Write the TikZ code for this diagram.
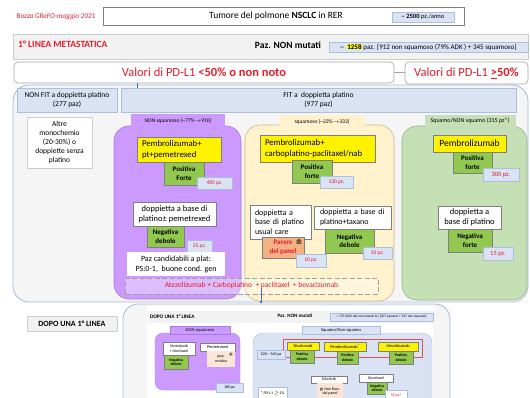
\documentclass[tikz,border=0pt]{standalone}
\usepackage{fontspec}
\setmainfont{Carlito}
\newfontfamily\emofont{Noto Emoji}
\usetikzlibrary{arrows.meta}
\definecolor{redtxt}{RGB}{228,28,44}
\definecolor{bluefill}{RGB}{218,227,243}
\definecolor{blueline}{RGB}{170,190,222}
\definecolor{bandfill}{RGB}{242,242,242}
\definecolor{bandline}{RGB}{205,205,205}
\definecolor{contfill}{RGB}{245,245,245}
\definecolor{contline}{RGB}{165,185,215}
\definecolor{purplefill}{RGB}{204,153,255}
\definecolor{purpleline}{RGB}{165,125,215}
\definecolor{peachfill}{RGB}{255,242,204}
\definecolor{peachline}{RGB}{200,185,140}
\definecolor{greenreg}{RGB}{197,224,180}
\definecolor{greenregline}{RGB}{150,180,135}
\definecolor{greenbox}{RGB}{146,200,80}
\definecolor{boxline}{RGB}{127,127,127}
\definecolor{orangebox}{RGB}{244,177,131}
\definecolor{lightorange}{RGB}{251,229,214}
\definecolor{linkblue}{RGB}{60,110,195}
\definecolor{redline}{RGB}{225,80,80}
\newcommand\fs[2]{\fontsize{#1pt}{#2pt}\selectfont}
\begin{document}
\begin{tikzpicture}[x=1pt,y=-1pt,
  every node/.style={inner sep=0pt, outer sep=0pt, align=center},
  rc/.style n args={4}{at={({(#1+#3)/2},{(#2+#4)/2})}, minimum width={(#3-#1)*1pt}, minimum height={(#4-#2)*1pt}},
  wbox/.style={draw=boxline, fill=white, line width=0.6pt},
  ybox/.style={draw=boxline, fill=yellow, line width=0.7pt},
  gbox/.style={draw=boxline, fill=greenbox, line width=0.5pt, font=\fs{7}{8.5}\bfseries},
  pzbox/.style={draw=blueline, fill=bluefill, line width=0.5pt, text=redtxt, font=\fs{5.5}{6.5}},
  bbox/.style={draw=blueline, fill=bluefill, line width=0.6pt},
  region/.style={rounded corners=15pt, line width=0.6pt},
  tw/.style={draw=boxline, fill=white, line width=0.3pt, font=\fs{4}{4.6}},
  ty/.style={draw=boxline, fill=yellow, line width=0.3pt, font=\fs{4.3}{4.8}},
  tg/.style={draw=boxline, fill=greenbox, line width=0.3pt, font=\fs{3.8}{4.4}\bfseries},
  tb/.style={draw=blueline, fill=bluefill, line width=0.3pt, font=\fs{4}{4.6}}
]
\useasboundingbox (0,0) rectangle (530,398);
\clip (0,0) rectangle (530,398);
\fill[white] (0,0) rectangle (530,398);

% ---------- header ----------
\node[text=redtxt, font=\fs{7.2}{8}\itshape] (bozza) at (56,17) {Bozza GReFO-maggio 2021};
\node[rc={103}{7}{464}{25}, draw=boxline, line width=0.8pt, fill=white] (title) {};
\node[font=\fs{9.5}{11}] (titletxt) at (276,16) {Tumore del polmone \textbf{NSCLC} in RER};
\node[rc={392}{12}{454}{22}, bbox, font=\fs{6.5}{7.5}] (anno) {\textasciitilde\ \textbf{2500} pz./anno};

\node[rc={13}{34}{528}{59}, fill=bandfill, draw=bandline, line width=0.6pt] (band) {};
\node[anchor=west, text=redtxt, font=\fs{9.5}{11}\bfseries] (linea) at (18,44) {1° LINEA METASTATICA};
\node[font=\fs{9.5}{11}\bfseries] (nonmut) at (288,45) {Paz. NON mutati};
\node[rc={329}{42}{528}{52}, bbox, font=\fs{7}{8}] (count) {\textasciitilde\ \ {\fboxsep=0.3pt\colorbox{yellow}{\textbf{1258}}} paz. [912 non squamoso (79\% ADK ) + 345 squamoso]};

% ---------- big container ----------
\node[rc={13}{85}{528}{302}, draw=contline, fill=contfill, rounded corners=16pt, line width=0.8pt] (cont) {};

\node[rc={14}{62}{394}{83}, draw=boxline!70, fill=white, rounded corners=4pt, line width=0.6pt, text=redtxt, font=\fs{12.5}{14}] (low) {Valori di PD-L1 \textbf{<50\% o non noto}};
\node[rc={405}{62}{528}{84}, draw=boxline!70, fill=white, rounded corners=4pt, line width=0.6pt, text=redtxt, font=\fs{12.5}{14}] (high) {Valori di PD-L1 \textbf{\underline{>}50\%}};
\draw[boxline!70, line width=0.8pt] (low.east) -- (low.east -| high.west);

\node[rc={17}{88}{117}{112}, bbox, font=\fs{7.5}{9}] (nonfit) {NON FIT a doppietta platino\\(277 paz)};
\node[rc={121}{88}{516}{112}, bbox, font=\fs{7.5}{9}] (fit) {FIT a\ \ doppietta platino\\(977 paz)};
\coordinate (lk) at (137,0);
\draw[linkblue, line width=0.8pt] (low.south -| lk) -- (fit.north -| lk);

\node[rc={27}{117}{92}{168}, draw=bandline, fill=white, line width=0.6pt, font=\fs{7.5}{9}] (altre) {Altre\\monochemio\\(20-30\%) o\\doppiette senza\\platino};

% ---------- NON squamoso ----------
\node[rc={114}{126}{241}{299}, draw=purpleline, fill=purplefill, region] (pmain) {};
\node[rc={131}{114}{225}{128}, fill=purplefill, font=\fs{5.5}{6.5}] (ptab) {NON squamoso (\textasciitilde77\%$\rightarrow$910)};
\node[rc={137}{137}{221}{162}, ybox, font=\fs{8.7}{10.5}, text width=74pt, align=left] (pem1) {Pembrolizumab+\\pt+pemetrexed};
\node[rc={164}{162}{204}{185}, gbox] (pf1) {Positiva\\Forte};
\node[rc={197}{177}{232}{189}, pzbox] (pz485) {485 pz.};
\node[rc={133}{202}{216}{226}, wbox, font=\fs{8.5}{10}] (dop1) {doppietta a base di\\platino\textpm\ pemetrexed};
\node[rc={147}{226}{184}{247}, gbox] (nd1) {Negativa\\debole};
\node[rc={187}{240}{212}{252}, pzbox] (pz25) {25 pz.};
\node[rc={127}{252}{225}{276}, fill=white, font=\fs{8}{10}] (cand) {Paz candidabili a plat:\\PS:0-1,\ \ buone cond. gen};

% ---------- squamoso ----------
\node[rc={245}{125}{394}{301}, draw=peachline, fill=peachfill, region] (smain) {};
\node[rc={279}{115}{365}{128}, fill=peachfill, font=\fs{5.5}{6.5}] (stab) {squamoso (\textasciitilde23\%$\rightarrow$332)};
\node[rc={260}{135}{375}{162}, ybox, font=\fs{8.7}{10.5}, text width=105pt, align=left] (pem2) {Pembrolizumab+\\carboplatino-paclitaxel/nab};
\node[rc={292}{160}{332}{183}, gbox] (pf2) {Positiva\\forte};
\node[rc={320}{176}{353}{188}, pzbox] (pz130) {130 pz.};
\node[rc={250}{205}{311}{239}, wbox, font=\fs{8}{9.5}, text width=51pt, align=left] (dop2) {doppietta a\\base di platino\\usual care};
\node[rc={262}{237}{304}{258}, draw=boxline, fill=orangebox, line width=0.5pt, text=redtxt, font=\fs{7}{8.5}\bfseries] (parere) {Parere\\del panel};
\node[font=\fs{5}{5}\emofont] (icon1) at (299,241.5) {🏛};
\node[rc={296}{254}{326}{267}, pzbox] (pz10a) {10 pz.};
\node[rc={314}{206}{391}{229}, wbox, font=\fs{8}{9.5}, text width=65pt, align=left] (dop3) {doppietta a base di\\platino+taxano};
\node[rc={325}{229}{374}{253}, gbox] (nd2) {Negativa\\debole};
\node[rc={363}{247}{392}{259}, pzbox] (pz10b) {10 pz.};

% ---------- squamo / NON squamo ----------
\node[rc={402}{126}{527}{300}, draw=greenregline, fill=greenreg, region] (gmain) {};
\node[rc={425}{115}{515}{127}, fill=greenreg, draw=greenregline!50, line width=0.4pt, font=\fs{6}{7}] (gtab) {Squamo/NON squamo (315 pz*)};
\node[rc={433}{135}{506}{152}, ybox, font=\fs{9.5}{11}] (pem3) {Pembrolizumab};
\node[rc={453}{152}{492}{173}, gbox] (pf3) {Positiva\\forte};
\node[rc={483}{168}{519}{181}, pzbox, font=\fs{6.5}{7.5}] (pz300) {300 pz.};
\node[rc={438}{206}{501}{229}, wbox, font=\fs{8.5}{10}] (dop4) {doppietta a\\base di platino};
\node[rc={448}{229}{492}{252}, gbox] (nf3) {Negativa\\forte};
\node[rc={483}{247}{513}{260}, pzbox, font=\fs{6.5}{7.5}] (pz15) {15 pz.};

% ---------- dashed option ----------
\node[rc={125}{278}{378}{294}, draw=gray!75, dash pattern=on 5pt off 2.5pt, line width=0.8pt, fill=white, fill opacity=0.35, text opacity=1, text=redtxt, font=\fs{7.5}{9}] (atezo) {Atezolizumab + Carboplatino\ \ + paclitaxel\ \ + bevacizumab};

% ---------- after first line ----------
\node[rc={27}{316}{117}{331}, fill=bandfill, draw=bandline, line width=0.6pt, font=\fs{8}{9.5}\bfseries] (dopo) {DOPO UNA 1° LINEA};
\node[rc={123}{304}{450}{420}, draw=contline, fill=contfill, rounded corners=15pt, line width=0.8pt] (bcont) {};
\coordinate (arrs) at (261,288);
\draw[linkblue, line width=0.8pt, -{Latex[length=3pt,width=3pt]}] (arrs) -- (arrs |- bcont.north);

\node[rc={147}{306}{433}{420}, fill=white] (thumb) {};
\node[rc={148}{311}{433}{323}, fill=bandfill] (tband) {};
\node[anchor=west, font=\fs{5.3}{6}\bfseries] (tdopo) at (150,317) {DOPO UNA 1° LINEA};
\node[font=\fs{5}{6}\bfseries] (tnm) at (295,316) {Paz. NON mutati};
\node[rc={330}{313}{433}{321}, tb, font=\fs{3.5}{4}] (tcount) {< 770 (60\% dei non mutati 1L) [207 squamo + 547 non squamo]};

\node[rc={155}{333}{240}{390}, fill=purplefill, draw=purpleline, line width=0.3pt, rounded corners=8pt] (tpmain) {};
\node[rc={170}{326}{230}{334}, fill=purplefill, draw=purpleline, line width=0.3pt, font=\fs{4.5}{5}] (tptab) {NON squamoso};
\node[rc={163}{342}{195}{355}, tw] (tnint) {Nintedanib\\+ docetaxel};
\node[rc={164}{355}{188}{369}, tg] (tnd1) {Negativa\\debole};
\node[rc={200}{343}{235}{351}, tw, font=\fs{4.3}{4.8}] (tpem) {Pemetrexed};
\node[rc={207}{351}{235}{367}, fill=lightorange, font=\fs{4}{4.6}] (tpop) {pop.\\residua};
\node[font=\fs{3}{3}\emofont] (icon2) at (231,354.5) {🏛};
\node[rc={216}{383}{243}{392}, tb] (t180) {180 pz};

\node[rc={253}{333}{432}{420}, fill=bluefill, draw=blueline, line width=0.4pt, rounded corners=10pt] (tsqmain) {};
\node[rc={302}{326}{380}{334}, tb, font=\fs{4.5}{5}] (tsqtab) {Squamo/Non squamo};
\node[rc={283}{339}{422}{357}, draw=redline, line width=0.9pt] (tred) {};
\node[rc={257}{350}{285}{359}, tb] (t520) {520 -- 540 pz};
\node[rc={287}{342}{319}{350}, ty] (tniv) {Nivolumab};
\node[rc={290}{350}{314}{363}, tg] (tpd1) {Positiva\\debole};
\node[rc={324}{342}{366}{351}, ty] (tpem2) {Pembrolizumab\textsuperscript{*}};
\node[rc={337}{351}{358}{364}, tg] (tpd2) {Positiva\\debole};
\node[rc={378}{342}{418}{351}, ty] (tatez) {Atezolizumab};
\node[rc={389}{351}{413}{364}, tg] (tpd3) {Positiva\\debole};
\node[rc={311}{376}{347}{383}, tw] (terl) {Erlotinib};
\node[rc={317}{383}{343}{400}, fill=lightorange, font=\fs{4}{4.8}] (tnr) {{\emofont\fs{3}{3}🏛} Non Racc.\\dal panel};
\node[rc={359}{374}{393}{382}, tw] (tdoc) {Docetaxel};
\node[rc={367}{382}{387}{394}, tg] (tnd2) {Negativa\\debole};
\node[rc={385}{390}{407}{400}, fill=white, draw=blueline, line width=0.3pt, text=redtxt, font=\fs{4}{4.6}] (t50) {50 pz?};
\node[rc={258}{387}{287}{400}, draw=blueline, fill=white, line width=0.3pt, font=\fs{4}{4.6}] (tpdl) {* PD-L1 $\geq$1\%};
\end{tikzpicture}
\end{document}
